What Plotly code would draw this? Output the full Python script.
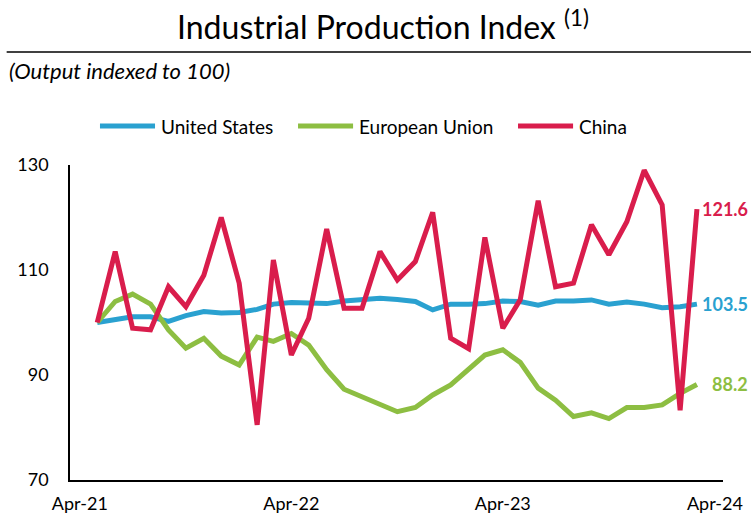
import pandas as pd
import plotly.graph_objects as go

months = pd.date_range("2021-05-01", periods=35, freq="MS")

us = [100.0, 100.5, 101.1, 101.1, 100.2, 101.3, 102.1, 101.8, 101.9, 102.5,
      103.5, 103.8, 103.8, 103.6, 104.1, 104.3, 104.6, 104.4, 104.0, 102.4,
      103.5, 103.5, 103.6, 104.1, 104.0, 103.3, 104.1, 104.1, 104.3, 103.5,
      103.9, 103.5, 102.8, 103.0, 103.5]
eu = [100.0, 104.0, 105.4, 103.5, 98.6, 95.1, 97.0, 93.6, 91.9, 97.2,
      96.4, 97.9, 95.7, 91.0, 87.3, 85.8, 84.3, 83.0, 83.8, 86.2,
      88.1, 91.0, 93.8, 94.8, 92.4, 87.5, 85.2, 82.1, 82.8, 81.7,
      83.8, 83.8, 84.3, 86.5, 88.2]
china = [100.0, 113.5, 98.9, 98.6, 106.8, 103.0, 109.0, 120.0, 107.5, 80.5,
         111.9, 93.8, 100.8, 117.8, 102.7, 102.7, 113.5, 108.1, 111.6, 121.0,
         97.0, 95.0, 116.2, 98.9, 104.3, 123.2, 106.8, 107.5, 118.6, 112.9,
         119.2, 129.0, 122.4, 83.3, 121.6]

names = ["United States", "European Union", "China"]
colors = ["#2AA1D0", "#8DBE42", "#D91D4C"]
series = [us, eu, china]

FONT = "Lato"

fig = go.Figure()
for name, col, vals in zip(names, colors, series):
    fig.add_trace(go.Scatter(x=months, y=vals, mode="lines", name=name,
                             showlegend=False,
                             line=dict(color=col, width=5)))

# end-of-line value labels
for col, vals in zip(colors, series):
    fig.add_annotation(x=months[-1], y=vals[-1], text=f"<b>{vals[-1]:.1f}</b>",
                       showarrow=False, xanchor="right", yanchor="middle",
                       xshift=53, font=dict(family=FONT, size=18, color=col))

# legend drawn as line swatches + labels
leg_x0 = [0.0459, 0.3492, 0.6861]
leg_y = 1.1238
for name, col, x0 in zip(names, colors, leg_x0):
    fig.add_shape(type="line", xref="paper", yref="paper", x0=x0, x1=x0 + 0.0843,
                  y0=leg_y, y1=leg_y, line=dict(color=col, width=5))
    fig.add_annotation(xref="paper", yref="paper", x=x0 + 0.0905, y=leg_y,
                       text=name, showarrow=False, xanchor="left",
                       yanchor="middle",
                       font=dict(family=FONT, size=19, color="black"))

fig.add_annotation(xref="paper", yref="paper", x=-0.096, y=1.30,
                   text="<i>(Output indexed to 100)</i>", showarrow=False,
                   xanchor="left", yanchor="middle",
                   font=dict(family=FONT, size=22, color="black"))

fig.add_shape(type="line", xref="paper", yref="paper", x0=-0.097, x1=1.05,
              y0=1.359, y1=1.359, line=dict(color="black", width=1.5))

fig.update_layout(
    width=751, height=516, autosize=False,
    margin=dict(l=70, r=28, t=165, b=36, autoexpand=False),
    paper_bgcolor="white", plot_bgcolor="white",
    font=dict(family=FONT, size=18, color="black"),
    title=dict(text="Industrial Production Index <sup>(1)</sup>",
               x=0.51, xanchor="center", y=0.946, yanchor="middle",
               font=dict(family=FONT, size=32, color="black")),
    showlegend=False,
)

fig.update_xaxes(range=["2021-03-15", "2024-04-15"], tick0="2021-04-01",
                 dtick="M12", tickformat="%b-%y", showgrid=False,
                 showline=True, linecolor="black", linewidth=1.5,
                 ticks="outside", ticklen=7, tickcolor="rgba(0,0,0,0)",
                 tickfont=dict(family=FONT, size=18), zeroline=False)
fig.update_yaxes(range=[70, 130], tickvals=[70, 90, 110, 130], showgrid=False,
                 showline=True, linecolor="black", linewidth=1.5,
                 ticks="outside", ticklen=16, tickcolor="rgba(0,0,0,0)",
                 tickfont=dict(family=FONT, size=18), zeroline=False)

fig.write_html("out.html", config={"displayModeBar": False},
               post_script="document.body.style.margin='0';"
                           "document.body.style.padding='0';")
